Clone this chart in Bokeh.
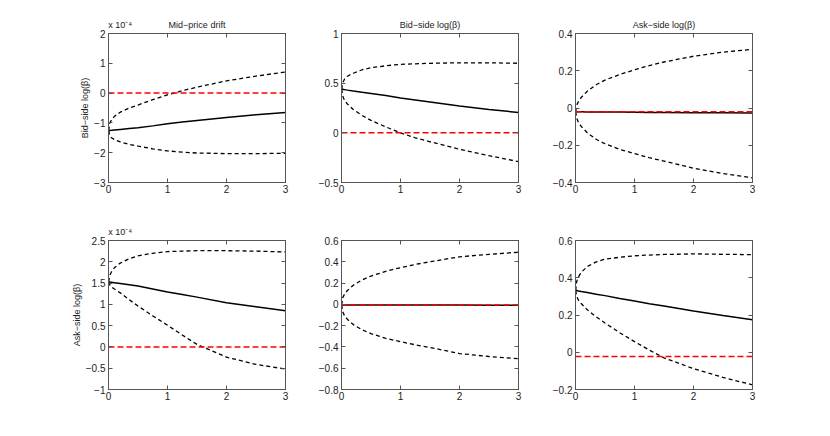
from bokeh.plotting import figure
from bokeh.layouts import column, row
from bokeh.models import Range1d, FixedTicker, LinearAxis
from bokeh.embed import file_html
from bokeh.resources import INLINE

# horizon (x axis)
t = [0, 0.02, 0.05, 0.1, 0.2, 0.35, 0.5, 0.75, 1.0, 1.25, 1.5, 2.0, 2.5, 3.0]

# Row 1: response to Bid-side log(beta)
# panel A: Mid-price drift (units of 1e-4)
a_mid = [-1.26, -1.255, -1.25, -1.24, -1.22, -1.19, -1.16, -1.10, -1.03, -0.97, -0.92, -0.82, -0.73, -0.65]
a_up = [-1.26, -1.02, -0.90, -0.78, -0.64, -0.50, -0.40, -0.22, -0.06, 0.08, 0.20, 0.41, 0.57, 0.71]
a_lo = [-1.26, -1.42, -1.50, -1.56, -1.64, -1.72, -1.78, -1.87, -1.94, -1.98, -2.01, -2.03, -2.03, -2.02]
a_ref = 0.0
# panel B: Bid-side log(beta)
b_mid = [0.44, 0.438, 0.435, 0.43, 0.421, 0.408, 0.396, 0.375, 0.35, 0.33, 0.31, 0.27, 0.235, 0.205]
b_up = [0.44, 0.50, 0.54, 0.57, 0.60, 0.635, 0.655, 0.675, 0.69, 0.695, 0.70, 0.705, 0.705, 0.70]
b_lo = [0.44, 0.37, 0.33, 0.29, 0.235, 0.175, 0.125, 0.06, 0.0, -0.05, -0.09, -0.165, -0.23, -0.29]
b_ref = 0.0
# panel C: Ask-side log(beta)
c_mid = [-0.02, -0.02, -0.02, -0.02, -0.021, -0.021, -0.022, -0.022, -0.023, -0.024, -0.024, -0.025, -0.026, -0.027]
c_up = [-0.02, 0.015, 0.035, 0.058, 0.09, 0.125, 0.15, 0.18, 0.205, 0.228, 0.247, 0.278, 0.30, 0.315]
c_lo = [-0.02, -0.055, -0.078, -0.10, -0.133, -0.168, -0.192, -0.222, -0.245, -0.267, -0.285, -0.323, -0.352, -0.375]
c_ref = -0.02

# Row 2: response to Ask-side log(beta)
# panel D: Mid-price drift (units of 1e-4)
d_mid = [1.53, 1.525, 1.52, 1.51, 1.49, 1.46, 1.43, 1.36, 1.29, 1.23, 1.17, 1.04, 0.945, 0.85]
d_up = [1.53, 1.68, 1.76, 1.86, 1.97, 2.07, 2.14, 2.20, 2.24, 2.25, 2.26, 2.26, 2.25, 2.23]
d_lo = [1.53, 1.46, 1.41, 1.36, 1.27, 1.11, 0.96, 0.73, 0.51, 0.28, 0.06, -0.24, -0.41, -0.52]
d_ref = 0.0
# panel E
e_mid = [-0.005, -0.005, -0.005, -0.005, -0.005, -0.006, -0.006, -0.006, -0.006, -0.007, -0.007, -0.007, -0.008, -0.008]
e_up = [-0.005, 0.06, 0.095, 0.13, 0.18, 0.23, 0.266, 0.31, 0.345, 0.375, 0.40, 0.447, 0.47, 0.49]
e_lo = [-0.005, -0.07, -0.105, -0.14, -0.19, -0.24, -0.275, -0.32, -0.35, -0.38, -0.405, -0.462, -0.49, -0.51]
e_ref = -0.005
# panel F
f_mid = [0.332, 0.331, 0.329, 0.326, 0.321, 0.312, 0.304, 0.289, 0.275, 0.261, 0.248, 0.222, 0.197, 0.175]
f_up = [0.332, 0.38, 0.405, 0.43, 0.46, 0.485, 0.50, 0.51, 0.518, 0.522, 0.525, 0.528, 0.526, 0.524]
f_lo = [0.332, 0.30, 0.28, 0.26, 0.228, 0.19, 0.157, 0.105, 0.057, 0.012, -0.03, -0.088, -0.135, -0.175]
f_ref = -0.023

x_ticks = [0, 1, 2, 3]
a_yticks = [-3, -2, -1, 0, 1, 2]
b_yticks = [-0.5, 0, 0.5, 1]
c_yticks = [-0.4, -0.2, 0, 0.2, 0.4]
d_yticks = [-1, -0.5, 0, 0.5, 1, 1.5, 2, 2.5]
e_yticks = [-0.8, -0.6, -0.4, -0.2, 0, 0.2, 0.4, 0.6]
f_yticks = [-0.2, 0, 0.2, 0.4, 0.6]

titles = ["Mid\u2212price drift", "Bid\u2212side log(\u03b2)", "Ask\u2212side log(\u03b2)"]
ylabels = ["Bid\u2212side log(\u03b2)", "Ask\u2212side log(\u03b2)"]
scale_text = "x 10\u207b\u2074"

FONT = "Liberation Sans"
AX = "#555555"
TXT = "#222222"

TITLE_POS = 1.5   # centre of the 0..3 horizon
SCALE_POS = 0.2   # just right of the left edge


def fmt(v):
    return ("%g" % v).replace("-", "\u2212")


def hidden_axis(ticks):
    ax = LinearAxis(ticker=FixedTicker(ticks=ticks))
    ax.axis_line_color = AX
    ax.major_tick_line_color = AX
    ax.major_tick_in = 4
    ax.major_tick_out = 0
    ax.minor_tick_line_color = None
    ax.major_label_text_color = None
    ax.major_label_text_font_size = "1px"
    ax.major_label_standoff = 0
    return ax


def make(mid, up, lo, ref, yticks, title, ylabel, scale, left, right, top, bottom):
    p = figure(frame_width=177, frame_height=149, output_backend="svg", toolbar_location=None,
               x_range=Range1d(0, 3), y_range=Range1d(yticks[0], yticks[-1]),
               min_border_left=left, min_border_right=right, min_border_top=top,
               min_border_bottom=bottom, background_fill_color="white", border_fill_color="white")
    p.xgrid.visible = False
    p.ygrid.visible = False
    p.outline_line_color = AX
    p.outline_line_width = 1

    p.xaxis[0].ticker = FixedTicker(ticks=x_ticks)
    p.xaxis[0].major_label_overrides = {v: fmt(v) for v in x_ticks}
    p.yaxis[0].ticker = FixedTicker(ticks=yticks)
    p.yaxis[0].major_label_overrides = {v: fmt(v) for v in yticks}
    for ax in (p.xaxis[0], p.yaxis[0]):
        ax.axis_line_color = AX
        ax.major_tick_line_color = AX
        ax.major_tick_in = 4
        ax.major_tick_out = 0
        ax.minor_tick_line_color = None
        ax.major_label_text_font = FONT
        ax.major_label_text_font_size = "10px"
        ax.major_label_text_color = TXT
        ax.major_label_standoff = 3
    p.xaxis[0].major_label_standoff = 2

    p.add_layout(hidden_axis(yticks), "right")
    p.add_layout(hidden_axis(x_ticks), "above")

    # title and scale factor as labels of an extra top axis
    labs = {}
    if scale:
        labs[SCALE_POS] = scale_text
    if title:
        labs[TITLE_POS] = title
    if labs:
        lab = LinearAxis(ticker=FixedTicker(ticks=list(labs.keys())), major_label_overrides=labs)
        lab.axis_line_color = None
        lab.major_tick_line_color = None
        lab.minor_tick_line_color = None
        lab.major_tick_in = 0
        lab.major_tick_out = 0
        lab.major_label_text_font = FONT
        lab.major_label_text_font_size = "9px"
        lab.major_label_text_color = TXT
        lab.major_label_standoff = 4
        p.add_layout(lab, "above")

    if ylabel:
        p.yaxis[0].axis_label = ylabel
        p.yaxis[0].axis_label_text_font = FONT
        p.yaxis[0].axis_label_text_font_size = "9px"
        p.yaxis[0].axis_label_text_font_style = "normal"
        p.yaxis[0].axis_label_text_color = TXT
        p.yaxis[0].axis_label_standoff = 1

    p.line(t, up, line_color="black", line_width=1.3, line_dash="4 3")
    p.line(t, lo, line_color="black", line_width=1.3, line_dash="4 3")
    p.line(t, mid, line_color="black", line_width=1.5)
    p.scatter([t[0]], [mid[0]], marker="dash", angle=1.5708, size=7, line_color="black", line_width=1.5)
    p.line([t[0], t[-1]], [ref, ref], line_color="red", line_width=1.5, line_dash="6 3")
    return p


pa = make(a_mid, a_up, a_lo, a_ref, a_yticks, titles[0], ylabels[0], True, 108, 10, 33, 30)
pb = make(b_mid, b_up, b_lo, b_ref, b_yticks, titles[1], None, False, 46, 10, 33, 30)
pc = make(c_mid, c_up, c_lo, c_ref, c_yticks, titles[2], None, False, 47, 10, 33, 30)
pd_ = make(d_mid, d_up, d_lo, d_ref, d_yticks, None, ylabels[1], True, 108, 10, 28, 25)
pe = make(e_mid, e_up, e_lo, e_ref, e_yticks, None, None, False, 46, 10, 28, 25)
pf = make(f_mid, f_up, f_lo, f_ref, f_yticks, None, None, False, 47, 10, 28, 25)

layout = column(row(pa, pb, pc, spacing=0), row(pd_, pe, pf, spacing=0), spacing=0)
open("out.html", "w").write(file_html(layout, INLINE))
